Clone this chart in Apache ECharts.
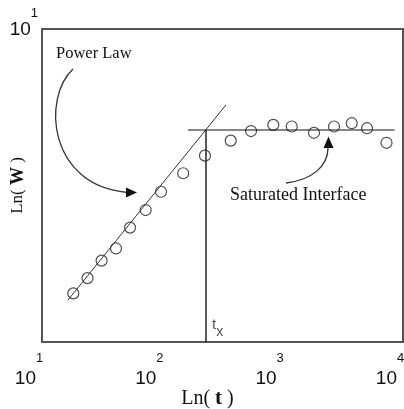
<!DOCTYPE html>
<html><head><meta charset="utf-8">
<script src="https://cdn.jsdelivr.net/npm/echarts@6/dist/echarts.min.js"></script>
<style>html,body{margin:0;padding:0;background:#fff}#c{width:404px;height:409px}</style>
</head><body><div id="c"></div>
<script>
// measured data (time t, interface width W)
const timeValues  = [18.2, 23.9, 31.3, 41.2, 53.9, 72.7, 97.5, 149, 226, 370, 546, 836, 1189, 1821, 2671, 3749, 5023, 7295];
const widthValues = [1.43, 1.60, 1.82, 1.99, 2.32, 2.64, 3.02, 3.46, 3.94, 4.40, 4.72, 4.94, 4.88, 4.66, 4.88, 5.00, 4.82, 4.33];
// guide lines
const powerLawT   = [16.4, 338];
const powerLawW   = [1.36, 5.72];
const saturationT = [163, 8500];
const saturationW = [4.757, 4.757];
const crossoverT  = [230.6, 230.6];
const crossoverW  = [4.757, 1];
// tick labels
const xTickValues = [10, 100, 1000, 10000];
const xTickExps   = ['1', '2', '3', '4'];
const yTickValues = [10];
const yTickExps   = ['1'];

const pairs = (xs, ys) => xs.map((x, i) => [x, ys[i]]);
function powLabel(vals, exps) {
  return function (v) {
    for (let i = 0; i < vals.length; i++) {
      if (Math.abs(Math.log10(v) - Math.log10(vals[i])) < 1e-6) return '{b|10}{s|' + exps[i] + '}';
    }
    return '';
  };
}
function tickRich(gap) {
  return {
    b: { fontFamily: 'Liberation Sans', fontSize: 19, color: '#111', verticalAlign: 'bottom', padding: [gap, 0, 0, 0] },
    s: { fontFamily: 'Liberation Sans', fontSize: 13, color: '#111', verticalAlign: 'top' }
  };
}
function nameRich(size) {
  return {
    a: { fontFamily: 'Liberation Serif', fontSize: size, color: '#111' },
    b: { fontFamily: 'Liberation Serif', fontSize: size + 1, fontWeight: 'bold', color: '#111' }
  };
}

const chart = echarts.init(document.getElementById('c'), null, { renderer: 'canvas' });
chart.setOption({
  animation: false,
  backgroundColor: '#fff',
  grid: { left: 42, top: 29, right: 1, bottom: 67, containLabel: false, outerBoundsMode: 'none',
          show: true, borderColor: '#555', borderWidth: 2, backgroundColor: 'transparent' },
  xAxis: {
    type: 'log', logBase: 10, min: 10, max: 10000,
    axisLine: { show: false }, axisTick: { show: false }, splitLine: { show: false },
    axisLabel: { formatter: powLabel(xTickValues, xTickExps), rich: tickRich(17), margin: 10, showMinLabel: true, showMaxLabel: true, align: 'center', padding: [0, 26, 0, 0] },
    name: '{a|Ln( }{b|t}{a| )}', nameLocation: 'middle', nameGap: 46, nameMoveOverlap: false,
    nameTextStyle: { rich: nameRich(20), padding: [0, 30, 0, 0] }
  },
  yAxis: {
    type: 'log', logBase: 10, min: 1, max: 10,
    axisLine: { show: false }, axisTick: { show: false }, splitLine: { show: false },
    axisLabel: { formatter: powLabel(yTickValues, yTickExps), rich: tickRich(14), margin: 4, showMinLabel: true, showMaxLabel: true, padding: [0, 0, 12, 0] },
    name: '{a|Ln( }{b|W}{a| )}', nameLocation: 'middle', nameGap: 15, nameRotate: 90, nameMoveOverlap: false,
    nameTextStyle: { rich: nameRich(17) }
  },
  series: [
    { type: 'line', data: pairs(powerLawT, powerLawW), symbol: 'none', lineStyle: { color: '#333', width: 1 }, silent: true },
    { type: 'line', data: pairs(saturationT, saturationW), symbol: 'none', lineStyle: { color: '#111', width: 1.2 }, silent: true },
    { type: 'line', data: pairs(crossoverT, crossoverW), symbol: 'none', lineStyle: { color: '#222', width: 1.5 }, silent: true },
    { type: 'scatter', data: pairs(timeValues, widthValues), symbol: 'circle', symbolSize: 11,
      itemStyle: { color: 'rgba(0,0,0,0)', borderColor: '#222', borderWidth: 1.2 } }
  ],
  graphic: [
    { type: 'text', left: 56, top: 45, style: { text: 'Power Law', font: '16.5px "Liberation Serif"', fill: '#111' } },
    { type: 'bezierCurve', shape: { x1: 73, y1: 69, cpx1: 42, cpy1: 98, cpx2: 48, cpy2: 186, x2: 128, y2: 192.5 }, style: { stroke: '#333', lineWidth: 1.3, fill: null } },
    { type: 'polygon', shape: { points: [[137, 192.5], [126, 187.5], [126, 197.5]] }, style: { fill: '#111' } },
    { type: 'text', left: 230, top: 186, style: { text: 'Saturated Interface', font: '18px "Liberation Serif"', fill: '#111' } },
    { type: 'bezierCurve', shape: { x1: 286, y1: 183, cpx1: 312, cpy1: 180, cpx2: 328, cpy2: 166, x2: 328, y2: 148 }, style: { stroke: '#333', lineWidth: 1.3, fill: null } },
    { type: 'polygon', shape: { points: [[328.5, 136.5], [323.5, 148], [333.5, 148]] }, style: { fill: '#111' } },
    { type: 'text', left: 212, top: 317, style: { text: '{t|t}{x|x}', rich: {
      t: { fontFamily: 'Liberation Sans', fontSize: 15, fill: '#555', verticalAlign: 'top' },
      x: { fontFamily: 'Liberation Sans', fontSize: 14, fill: '#555', verticalAlign: 'bottom', padding: [8, 0, 0, 0] } } } }
  ]
});
</script></body></html>
